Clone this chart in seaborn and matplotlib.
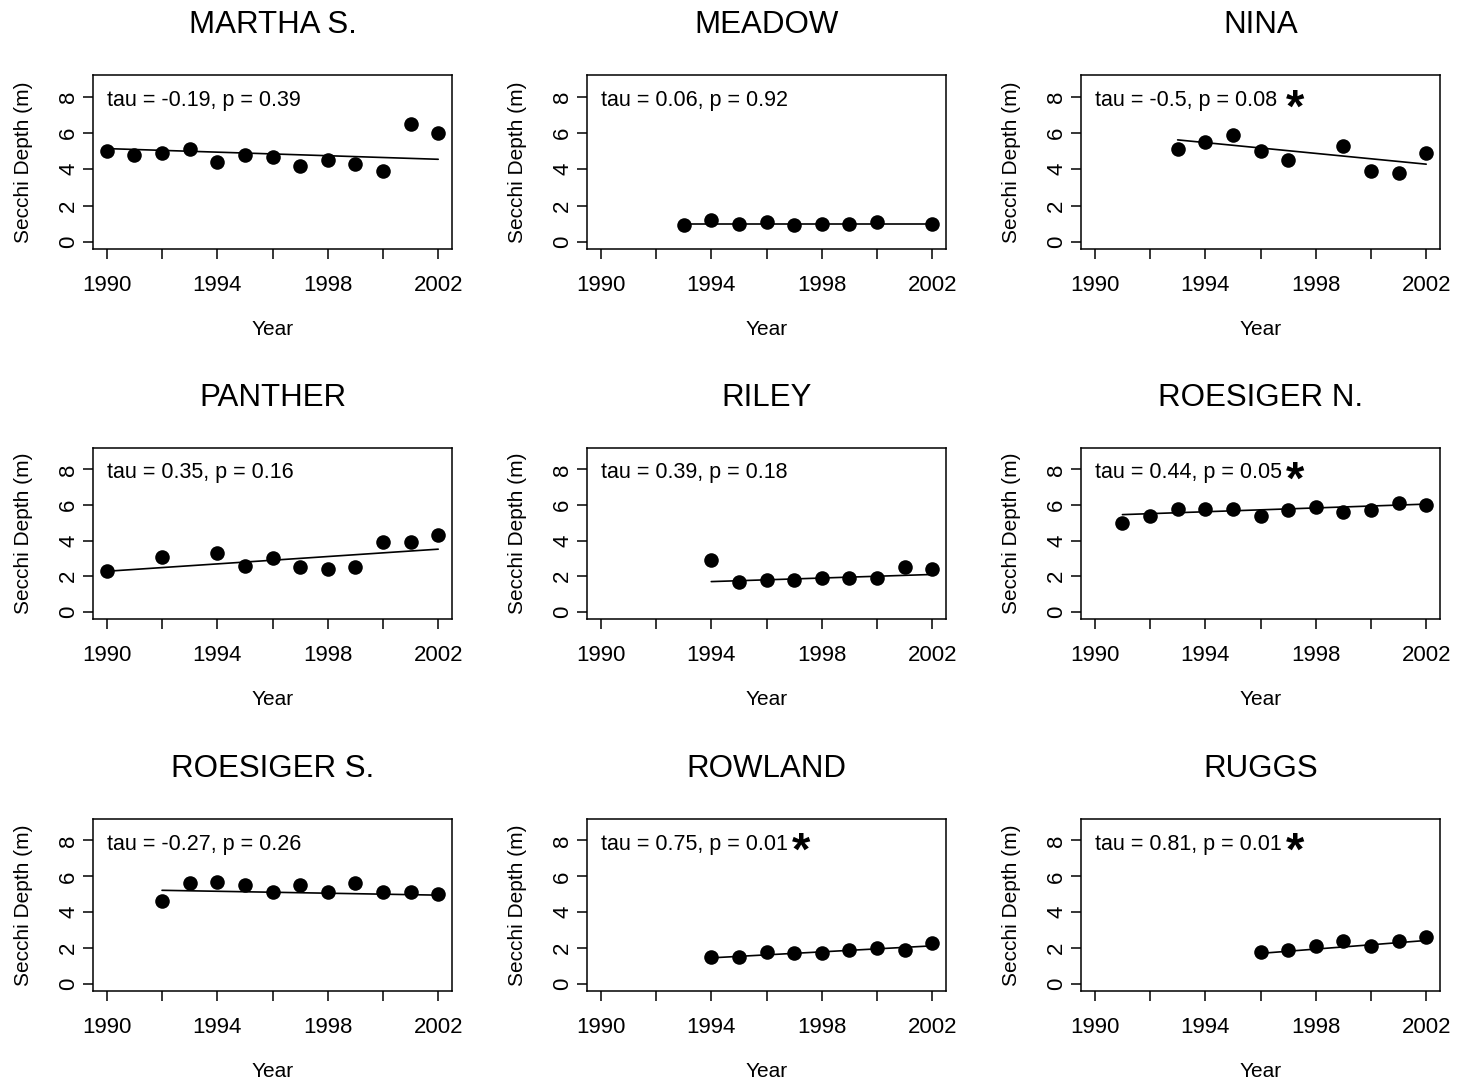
import numpy as np
import pandas as pd
import matplotlib
matplotlib.use("Agg")
import matplotlib.pyplot as plt
import seaborn as sns

# Annual mean Secchi depth (m) per lake
lakes = ["MARTHA S.", "MEADOW", "NINA",
         "PANTHER", "RILEY", "ROESIGER N.",
         "ROESIGER S.", "ROWLAND", "RUGGS"]

martha_years = [1990, 1991, 1992, 1993, 1994, 1995, 1996, 1997, 1998, 1999, 2000, 2001, 2002]
martha_depth = [5.0, 4.8, 4.9, 5.1, 4.4, 4.8, 4.7, 4.2, 4.5, 4.3, 3.9, 6.5, 6.0]

meadow_years = [1993, 1994, 1995, 1996, 1997, 1998, 1999, 2000, 2002]
meadow_depth = [0.9, 1.2, 1.0, 1.1, 0.9, 1.0, 1.0, 1.1, 1.0]

nina_years = [1993, 1994, 1995, 1996, 1997, 1999, 2000, 2001, 2002]
nina_depth = [5.1, 5.5, 5.9, 5.0, 4.5, 5.3, 3.9, 3.8, 4.9]

panther_years = [1990, 1992, 1994, 1995, 1996, 1997, 1998, 1999, 2000, 2001, 2002]
panther_depth = [2.3, 3.1, 3.3, 2.6, 3.0, 2.5, 2.4, 2.5, 3.9, 3.9, 4.3]

riley_years = [1994, 1995, 1996, 1997, 1998, 1999, 2000, 2001, 2002]
riley_depth = [2.9, 1.7, 1.8, 1.8, 1.9, 1.9, 1.9, 2.5, 2.4]

roesiger_n_years = [1991, 1992, 1993, 1994, 1995, 1996, 1997, 1998, 1999, 2000, 2001, 2002]
roesiger_n_depth = [5.0, 5.4, 5.8, 5.8, 5.8, 5.4, 5.7, 5.9, 5.6, 5.7, 6.1, 6.0]

roesiger_s_years = [1992, 1993, 1994, 1995, 1996, 1997, 1998, 1999, 2000, 2001, 2002]
roesiger_s_depth = [4.6, 5.6, 5.7, 5.5, 5.1, 5.5, 5.1, 5.6, 5.1, 5.1, 5.0]

rowland_years = [1994, 1995, 1996, 1997, 1998, 1999, 2000, 2001, 2002]
rowland_depth = [1.5, 1.5, 1.8, 1.7, 1.7, 1.9, 2.0, 1.9, 2.3]

ruggs_years = [1996, 1997, 1998, 1999, 2000, 2001, 2002]
ruggs_depth = [1.8, 1.9, 2.1, 2.4, 2.1, 2.4, 2.6]

# Sen's slope trend line: fitted depth at the first and last sampled year
trend_first = [5.14, 1.0, 5.62, 2.28, 1.70, 5.46, 5.22, 1.45, 1.70]
trend_last = [4.55, 1.0, 4.28, 3.52, 2.10, 6.05, 4.95, 2.12, 2.42]

# Mann-Kendall results
tau_values = ["-0.19", "0.06", "-0.5", "0.35", "0.39", "0.44", "-0.27", "0.75", "0.81"]
p_values = ["0.39", "0.92", "0.08", "0.16", "0.18", "0.05", "0.26", "0.01", "0.01"]
significant = [False, False, True, False, False, True, False, True, True]

years_list = [martha_years, meadow_years, nina_years, panther_years, riley_years,
              roesiger_n_years, roesiger_s_years, rowland_years, ruggs_years]
depth_list = [martha_depth, meadow_depth, nina_depth, panther_depth, riley_depth,
              roesiger_n_depth, roesiger_s_depth, rowland_depth, ruggs_depth]

sns.set_theme(style="ticks")
plt.rcParams["font.family"] = ["Liberation Sans", "DejaVu Sans"]
plt.rcParams["axes.linewidth"] = 1.1
plt.rcParams["xtick.major.width"] = 1.1
plt.rcParams["ytick.major.width"] = 1.1

W, H = 1459, 1085
fig = plt.figure(figsize=(W / 100, H / 100), dpi=100)

col_x = [(93, 452), (587, 946), (1081, 1440)]
row_y = [(75, 249), (448, 619), (819, 991)]

for i, lake in enumerate(lakes):
    r, c = divmod(i, 3)
    x0, x1 = col_x[c]
    y0, y1 = row_y[r]
    ax = fig.add_axes([x0 / W, 1 - y1 / H, (x1 - x0) / W, (y1 - y0) / H])

    df = pd.DataFrame({"Year": years_list[i], "Depth": depth_list[i]})
    sns.scatterplot(data=df, x="Year", y="Depth", ax=ax, color="black",
                    s=110, edgecolor="black", linewidth=0, zorder=3)

    trend = pd.DataFrame({"Year": [years_list[i][0], years_list[i][-1]],
                          "Depth": [trend_first[i], trend_last[i]]})
    sns.lineplot(data=trend, x="Year", y="Depth", ax=ax, color="black",
                 linewidth=1.2, zorder=2)

    ax.set_xlim(1989.5, 2002.5)
    ax.set_ylim(-0.4, 9.2)
    ax.set_xticks(np.arange(1990, 2003, 2))
    ax.set_xticklabels(["1990", "", "1994", "", "1998", "", "2002"])
    ax.set_yticks([0, 2, 4, 6, 8])
    ax.set_yticklabels(["0", "2", "4", "6", "8"], rotation=90, va="center")
    ax.tick_params(axis="x", length=7, pad=12, labelsize=16, colors="black")
    ax.tick_params(axis="y", length=7, pad=3, labelsize=16, colors="black")
    for sp in ax.spines.values():
        sp.set_visible(True)
        sp.set_color("black")

    ax.set_xlabel("Year", fontsize=15, labelpad=17, color="black")
    ax.set_ylabel("Secchi Depth (m)", fontsize=15, labelpad=18, color="black")
    ax.set_title(lake, fontsize=22.5, pad=30, color="black")

    ax.text(1990, 7.8, f"tau = {tau_values[i]}, p = {p_values[i]}",
            ha="left", va="center", fontsize=15.5, color="black")
    if significant[i]:
        ax.text(1997.25, 7.3, "*", ha="center", va="center", fontsize=34,
                fontweight="bold", color="black")

fig.savefig("out.png", dpi=100, facecolor="white")
